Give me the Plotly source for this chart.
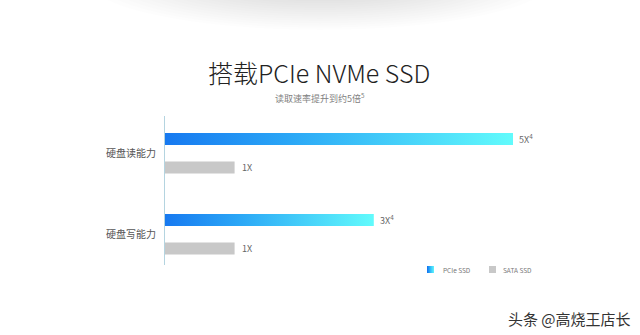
import plotly.graph_objects as go

# ---- data ----
categories = ["硬盘读能力", "硬盘写能力"]
pcie_values = [5, 3]
sata_values = [1, 1]
pcie_labels = ["5X<sup>4</sup>", "3X<sup>4</sup>"]
sata_labels = ["1X", "1X"]
series_names = ["PCIe SSD", "SATA SSD"]

# ---- layout constants (pixels) ----
W, H = 640, 335
ML, MR, MT, MB = 165, 40, 116, 70
PLOT_W = W - ML - MR
PLOT_H = H - MT - MB
X_MAX = 6.25
Y_RANGE = [1.38, -0.46]
OFFSET = 0.176
BAR_H = 0.148

FONT = "Noto Sans CJK SC, Noto Sans, sans-serif"
GRAD = [[0, "#1779f0"], [0.35, "#2aa6f6"], [1, "#62fbfc"]]
GRAY = "#c8c8c8"


def px_x(px):
    return (px - ML) / PLOT_W


def px_y(py):
    return (H - MB - py) / PLOT_H


fig = go.Figure()

# PCIe bars: filled rectangles with a horizontal gradient, one trace per bar
for i, v in enumerate(pcie_values):
    yc = i - OFFSET
    y0, y1 = yc - BAR_H / 2, yc + BAR_H / 2
    fig.add_trace(go.Scatter(
        x=[0, v, v, 0, 0], y=[y0, y0, y1, y1, y0],
        mode="lines", line=dict(width=0),
        fill="toself",
        fillgradient=dict(type="horizontal", colorscale=GRAD),
        name=series_names[0], showlegend=False, hoverinfo="skip",
    ))

# SATA bars
fig.add_trace(go.Bar(
    x=sata_values, y=[i + OFFSET for i in range(len(categories))],
    orientation="h", width=BAR_H, marker=dict(color=GRAY, line=dict(width=0)),
    name=series_names[1], showlegend=False, hoverinfo="skip",
))

annotations = []
for i, (v, t) in enumerate(zip(pcie_values, pcie_labels)):
    annotations.append(dict(x=v, y=i - OFFSET, xref="x", yref="y", text=t,
                            showarrow=False, xanchor="left", yanchor="middle",
                            xshift=4, font=dict(family=FONT, size=9, color="#666")))
for i, (v, t) in enumerate(zip(sata_values, sata_labels)):
    annotations.append(dict(x=v, y=i + OFFSET, xref="x", yref="y", text=t,
                            showarrow=False, xanchor="left", yanchor="middle",
                            xshift=5, font=dict(family=FONT, size=9, color="#666")))

# title and subtitle
annotations.append(dict(x=px_x(319), y=px_y(72), xref="paper", yref="paper",
                        text="搭载PCIe NVMe SSD", showarrow=False,
                        xanchor="center", yanchor="middle",
                        font=dict(family=FONT, size=25, color="#222", weight=300)))
annotations.append(dict(x=px_x(320), y=px_y(98), xref="paper", yref="paper",
                        text="读取速率提升到约5倍<sup>5</sup>", showarrow=False,
                        xanchor="center", yanchor="middle",
                        font=dict(family=FONT, size=9, color="#808080")))

# legend
annotations.append(dict(x=px_x(441), y=px_y(269.5), xref="paper", yref="paper",
                        text=series_names[0], showarrow=False,
                        xanchor="left", yanchor="middle",
                        font=dict(family=FONT, size=6.5, color="#777")))
annotations.append(dict(x=px_x(501), y=px_y(269.5), xref="paper", yref="paper",
                        text=series_names[1], showarrow=False,
                        xanchor="left", yanchor="middle",
                        font=dict(family=FONT, size=6.5, color="#777")))

# watermark
annotations.append(dict(x=px_x(633), y=px_y(318), xref="paper", yref="paper",
                        text="头条 @高烧王店长", showarrow=False,
                        xanchor="right", yanchor="middle",
                        font=dict(family=FONT, size=15, color="#333")))

shapes = []
# soft shadow along the top edge
for k in range(14):
    rx = 235 - k * 9
    ry = 52 - k * 2.2
    shapes.append(dict(type="circle", xref="paper", yref="paper",
                       x0=px_x(320 - rx), x1=px_x(320 + rx),
                       y0=px_y(-22 + ry), y1=px_y(-22 - ry),
                       fillcolor="rgba(0,0,0,0.009)", line=dict(width=0),
                       layer="below"))

# legend swatches: gradient square for PCIe, flat gray for SATA
sw_cols = ["#1779f0", "#1f8ef3", "#28a4f6", "#33bbf8", "#3fcdfa", "#4ddefb", "#5aedfc"]
for j, c in enumerate(sw_cols):
    shapes.append(dict(type="rect", xref="paper", yref="paper",
                       x0=px_x(427 + j), x1=px_x(428 + j),
                       y0=px_y(273), y1=px_y(266),
                       fillcolor=c, line=dict(width=0)))
shapes.append(dict(type="rect", xref="paper", yref="paper",
                   x0=px_x(489), x1=px_x(496), y0=px_y(273), y1=px_y(266),
                   fillcolor=GRAY, line=dict(width=0)))

fig.update_layout(
    width=W, height=H,
    margin=dict(l=ML, r=MR, t=MT, b=MB),
    paper_bgcolor="white", plot_bgcolor="white",
    showlegend=False,
    xaxis=dict(range=[0, X_MAX], visible=False, fixedrange=True),
    yaxis=dict(range=Y_RANGE, tickvals=list(range(len(categories))),
               ticktext=categories, showgrid=False, zeroline=False,
               showline=True, linecolor="#b4d4e0", linewidth=1,
               ticks="", ticklabelstandoff=6,
               tickfont=dict(family=FONT, size=10, color="#555"),
               fixedrange=True),
    annotations=annotations,
    shapes=shapes,
)

fig.write_html("out.html")
